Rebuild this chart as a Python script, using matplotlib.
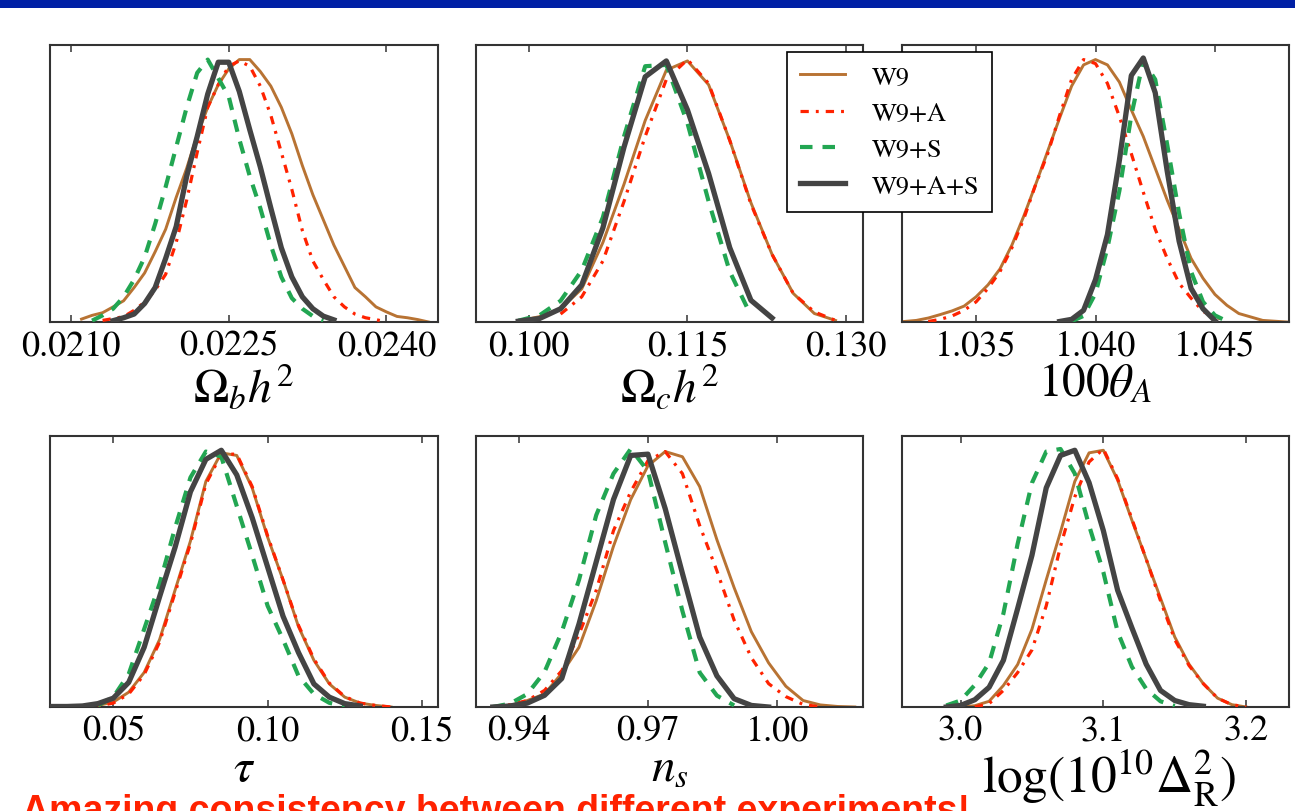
import matplotlib
matplotlib.use("Agg")
import matplotlib.pyplot as plt
from matplotlib.patches import Rectangle
import numpy as np

nan = np.nan

plt.rcParams['font.family'] = ['STIXGeneral', 'DejaVu Serif']
plt.rcParams['mathtext.fontset'] = 'stix'

legend_labels = ['W9', 'W9+A', 'W9+S', 'W9+A+S']

# --- Omega_b h^2
ombh2_x = [0.0209, 0.0210, 0.0211, 0.0212, 0.0213, 0.0214, 0.0215, 0.0216, 0.0217,
           0.0218, 0.0219, 0.0220, 0.0221, 0.0222, 0.0223, 0.0224, 0.0225, 0.0226,
           0.0227, 0.0228, 0.0229, 0.0230, 0.0231, 0.0232, 0.0233, 0.0234, 0.0235,
           0.0236, 0.0237, 0.0238, 0.0239, 0.0240, 0.0241, 0.0242, 0.0243, 0.0244]
ombh2_w9 = [nan, nan, 0.011, 0.025, 0.035, 0.057, 0.08, 0.13, 0.185,
            0.265, 0.35, 0.47, 0.58, 0.705, 0.81, 0.895, 0.955, 0.99,
            0.99, 0.945, 0.89, 0.81, 0.71, 0.59, 0.48, 0.385, 0.29,
            0.21, 0.13, 0.095, 0.057, 0.038, 0.021, 0.016, 0.009, 0.0]
ombh2_w9a = [nan, nan, nan, nan, 0.006, 0.013, 0.02, 0.044, 0.075,
             0.12, 0.18, 0.30, 0.46, 0.64, 0.81, 0.895, 0.965, 0.985,
             0.965, 0.89, 0.78, 0.64, 0.50, 0.345, 0.23, 0.16, 0.095,
             0.057, 0.03, 0.016, 0.009, 0.0, nan, nan, nan, nan]
ombh2_w9s = [nan, nan, nan, 0.005, 0.025, 0.05, 0.095, 0.16, 0.245,
             0.37, 0.51, 0.66, 0.81, 0.94, 0.99, 0.92, 0.85, 0.69,
             0.55, 0.43, 0.29, 0.17, 0.09, 0.05, 0.022, 0.006, nan,
             nan, nan, nan, nan, nan, nan, nan, nan, nan]
ombh2_w9as = [nan, nan, nan, nan, nan, 0.005, 0.016, 0.03, 0.07,
              0.13, 0.24, 0.36, 0.55, 0.70, 0.86, 0.98, 0.98, 0.87,
              0.725, 0.585, 0.43, 0.28, 0.17, 0.095, 0.05, 0.022, 0.008,
              nan, nan, nan, nan, nan, nan, nan, nan, nan]

# --- Omega_c h^2
omch2_x = [0.099, 0.101, 0.103, 0.105, 0.107, 0.109, 0.111, 0.113, 0.115,
           0.117, 0.119, 0.121, 0.123, 0.125, 0.127, 0.129, 0.131]
omch2_w9 = [0.004, 0.02, 0.05, 0.125, 0.30, 0.52, 0.76, 0.95, 0.985,
            0.895, 0.685, 0.45, 0.255, 0.108, 0.032, 0.006, nan]
omch2_w9a = [nan, nan, 0.03, 0.095, 0.23, 0.455, 0.70, 0.915, 0.99,
             0.90, 0.685, 0.445, 0.255, 0.108, 0.038, 0.006, nan]
omch2_w9s = [0.005, 0.025, 0.08, 0.195, 0.395, 0.70, 0.965, 0.97, 0.75,
             0.455, 0.19, 0.025, nan, nan, nan, nan, nan]
omch2_w9as = [0.003, 0.013, 0.05, 0.14, 0.355, 0.66, 0.925, 0.985, 0.80,
              0.56, 0.28, 0.082, 0.015, nan, nan, nan, nan]

# --- 100 theta_A
theta_x = [1.0320, 1.0325, 1.0330, 1.0335, 1.0340, 1.0345, 1.0350, 1.0355, 1.0360,
           1.0365, 1.0370, 1.0375, 1.0380, 1.0385, 1.0390, 1.0395, 1.0400, 1.0405,
           1.0410, 1.0415, 1.0420, 1.0425, 1.0430, 1.0435, 1.0440, 1.0445, 1.0450,
           1.0455, 1.0460, 1.0465, 1.0470, 1.0475, 1.0480]
theta_w9 = [0.002, 0.006, 0.015, 0.028, 0.042, 0.06, 0.095, 0.14, 0.20,
            0.29, 0.40, 0.52, 0.645, 0.77, 0.89, 0.97, 0.99, 0.97,
            0.905, 0.80, 0.70, 0.58, 0.46, 0.35, 0.24, 0.165, 0.104,
            0.063, 0.032, 0.019, 0.006, 0.003, 0.0]
theta_w9a = [nan, nan, 0.002, 0.01, 0.023, 0.044, 0.076, 0.127, 0.19,
             0.28, 0.39, 0.52, 0.635, 0.78, 0.915, 0.99, 0.975, 0.90,
             0.775, 0.635, 0.49, 0.35, 0.24, 0.146, 0.09, 0.04, 0.019,
             0.006, nan, nan, nan, nan, nan]
theta_w9s = [nan, nan, nan, nan, nan, nan, nan, nan, nan,
             nan, nan, nan, nan, nan, 0.003, 0.023, 0.108, 0.28,
             0.495, 0.78, 0.985, 0.915, 0.67, 0.41, 0.19, 0.076, 0.025,
             0.003, nan, nan, nan, nan, nan]
theta_w9as = [nan, nan, nan, nan, nan, nan, nan, nan, nan,
              nan, nan, nan, nan, 0.002, 0.01, 0.044, 0.16, 0.33,
              0.61, 0.93, 0.996, 0.865, 0.57, 0.305, 0.127, 0.05, 0.005,
              nan, nan, nan, nan, nan, nan]

# --- tau
tau_x = [0.030, 0.035, 0.040, 0.045, 0.050, 0.055, 0.060, 0.065, 0.070,
         0.075, 0.080, 0.085, 0.090, 0.095, 0.100, 0.105, 0.110, 0.115,
         0.120, 0.125, 0.130, 0.135, 0.140, 0.145, 0.150]
tau_w9 = [nan, 0.001, 0.002, 0.006, 0.019, 0.057, 0.133, 0.26, 0.45,
          0.64, 0.87, 0.98, 0.97, 0.845, 0.655, 0.49, 0.31, 0.18,
          0.089, 0.038, 0.015, 0.006, 0.0, nan, nan]
tau_w9a = [nan, nan, 0.0, 0.004, 0.015, 0.05, 0.125, 0.25, 0.44,
           0.63, 0.86, 0.975, 0.975, 0.85, 0.66, 0.49, 0.315, 0.185,
           0.092, 0.04, 0.015, 0.006, 0.0, nan, nan]
tau_w9s = [nan, nan, nan, 0.006, 0.038, 0.127, 0.30, 0.475, 0.69,
           0.885, 0.985, 0.965, 0.775, 0.585, 0.39, 0.26, 0.12, 0.05,
           0.016, 0.003, nan, nan, nan, nan, nan]
tau_w9as = [0.002, 0.002, 0.004, 0.013, 0.034, 0.095, 0.23, 0.425, 0.615,
            0.83, 0.955, 0.99, 0.895, 0.73, 0.54, 0.35, 0.21, 0.089,
            0.038, 0.013, 0.004, nan, nan, nan, nan]

# --- n_s
ns_x = [0.934, 0.938, 0.942, 0.946, 0.950, 0.954, 0.958, 0.962, 0.966, 0.970, 0.974,
        0.978, 0.982, 0.986, 0.990, 0.994, 0.998, 1.002, 1.006, 1.010, 1.014, 1.018]
ns_w9 = [nan, 0.006, 0.025, 0.05, 0.13, 0.23, 0.41, 0.62, 0.80, 0.93, 0.985,
         0.965, 0.85, 0.645, 0.46, 0.29, 0.17, 0.08, 0.025, 0.008, 0.002, 0.0]
ns_w9a = [0.0, 0.009, 0.025, 0.064, 0.14, 0.28, 0.45, 0.68, 0.83, 0.95, 0.985,
          0.90, 0.70, 0.525, 0.335, 0.19, 0.09, 0.04, 0.01, 0.0, nan, nan]
ns_w9s = [0.0, 0.013, 0.05, 0.135, 0.29, 0.49, 0.74, 0.90, 0.995, 0.91, 0.635,
          0.37, 0.133, 0.044, 0.006, nan, nan, nan, nan, nan, nan, nan]
ns_w9as = [0.0, 0.004, 0.015, 0.045, 0.11, 0.32, 0.56, 0.80, 0.97, 0.975, 0.765,
           0.515, 0.27, 0.12, 0.032, 0.006, 0.0, nan, nan, nan, nan, nan]

# --- log(10^10 Delta_R^2)
logA_x = [2.97, 2.98, 2.99, 3.00, 3.01, 3.02, 3.03, 3.04, 3.05, 3.06, 3.07, 3.08,
          3.09, 3.10, 3.11, 3.12, 3.13, 3.14, 3.15, 3.16, 3.17, 3.18, 3.19, 3.20]
logA_w9 = [nan, nan, nan, 0.0, 0.005, 0.022, 0.083, 0.164, 0.30, 0.49, 0.675, 0.87,
           0.98, 0.99, 0.875, 0.72, 0.57, 0.42, 0.27, 0.165, 0.09, 0.034, 0.009, 0.0]
logA_w9a = [nan, nan, nan, nan, 0.0, 0.013, 0.064, 0.133, 0.22, 0.39, 0.62, 0.81,
            0.945, 0.995, 0.88, 0.725, 0.57, 0.41, 0.26, 0.16, 0.09, 0.034, 0.009, 0.0]
logA_w9s = [nan, nan, 0.006, 0.025, 0.085, 0.17, 0.36, 0.63, 0.864, 0.985, 0.995, 0.90,
            0.70, 0.52, 0.29, 0.155, 0.07, 0.022, 0.004, nan, nan, nan, nan, nan]
logA_w9as = [nan, nan, 0.0, 0.006, 0.028, 0.076, 0.18, 0.38, 0.585, 0.845, 0.97, 0.99,
             0.865, 0.68, 0.45, 0.305, 0.165, 0.064, 0.025, 0.009, 0.003, nan, nan, nan]

panels = [
    (ombh2_x, [ombh2_w9, ombh2_w9a, ombh2_w9s, ombh2_w9as], (0.0208, 0.02449),
     [0.0210, 0.0225, 0.0240], ['0.0210', '0.0225', '0.0240'], r'$\Omega_b h^2$'),
    (omch2_x, [omch2_w9, omch2_w9a, omch2_w9s, omch2_w9as], (0.0950, 0.1316),
     [0.100, 0.115, 0.130], ['0.100', '0.115', '0.130'], r'$\Omega_c h^2$'),
    (theta_x, [theta_w9, theta_w9a, theta_w9s, theta_w9as], (1.0319, 1.0481),
     [1.035, 1.040, 1.045], ['1.035', '1.040', '1.045'], r'$100\theta_A$'),
    (tau_x, [tau_w9, tau_w9a, tau_w9s, tau_w9as], (0.0295, 0.1552),
     [0.05, 0.10, 0.15], ['0.05', '0.10', '0.15'], r'$\tau$'),
    (ns_x, [ns_w9, ns_w9a, ns_w9s, ns_w9as], (0.9301, 1.0199),
     [0.94, 0.97, 1.00], ['0.94', '0.97', '1.00'], r'$n_s$'),
    (logA_x, [logA_w9, logA_w9a, logA_w9s, logA_w9as], (2.959, 3.230),
     [3.0, 3.1, 3.2], ['3.0', '3.1', '3.2'], r'$\log(10^{10}\Delta^2_{\mathrm{R}})$'),
]
label_sizes = [34, 34, 34, 34, 34, 37]
label_x = [0.5, 0.5, 0.5, 0.5, 0.5, 0.535]

# line styles: W9, W9+A, W9+S, W9+A+S
colors = ['#B87333', '#FF2200', '#22A652', '#444444']
widths = [2.1, 2.3, 3.0, 3.8]
styles = ['-', (0, (2.6, 2.2, 0.9, 2.2)), (0, (3.0, 2.4)), '-']
zorders = [2, 3, 4, 5]

W, H = 1295, 812
fig = plt.figure(figsize=(W / 100, H / 100), dpi=100)
fig.patch.set_facecolor('white')

# blue title strip at the top
fig.patches.append(Rectangle((0, 1 - 9 / H), 1, 9 / H, transform=fig.transFigure,
                             facecolor='#0020A5', edgecolor='none', zorder=10))

# axes boxes in pixels: (left, right, top, bottom)
boxes = [(50, 438, 46, 323), (476, 863, 46, 323), (902, 1289, 46, 323),
         (50, 438, 437, 708), (476, 863, 437, 708), (902, 1289, 437, 708)]

lines = []
for i, (x, ys, xlim, ticks, ticklabels, xlabel) in enumerate(panels):
    l, r, t, b = boxes[i]
    ax = fig.add_axes([l / W, 1 - b / H, (r - l) / W, (b - t) / H])
    for j, y in enumerate(ys):
        ln, = ax.plot(x, y, color=colors[j], lw=widths[j], ls=styles[j],
                      zorder=zorders[j])
        if i == 0:
            lines.append(ln)
    ax.set_xlim(*xlim)
    ax.set_ylim(0, 1.045)
    ax.set_xticks(ticks)
    ax.set_xticklabels(ticklabels)
    ax.set_yticks([])
    ax.tick_params(axis='x', direction='in', top=True, length=5, width=1.1,
                   pad=5, labelsize=26, color='#333333')
    for sp in ax.spines.values():
        sp.set_linewidth(1.5)
        sp.set_color('#333333')
    ax.set_xlabel(xlabel, fontsize=label_sizes[i], labelpad=0)
    ax.xaxis.label.set_x(label_x[i])

leg = fig.legend(lines, legend_labels, loc='upper left',
                 bbox_to_anchor=(787 / W, 1 - 53 / H), borderaxespad=0,
                 fontsize=19, handlelength=1.7, handletextpad=1.0,
                 labelspacing=0.45, borderpad=0.5, fancybox=False,
                 framealpha=1, edgecolor='black')
leg.get_frame().set_linewidth(1.2)

fig.text(22 / W, -10 / H, 'Amazing consistency between different experiments!',
         color='#FF2200', fontsize=27, fontweight='bold',
         family=['Liberation Sans', 'DejaVu Sans'], va='baseline', ha='left')

fig.savefig('out.png', dpi=100)
